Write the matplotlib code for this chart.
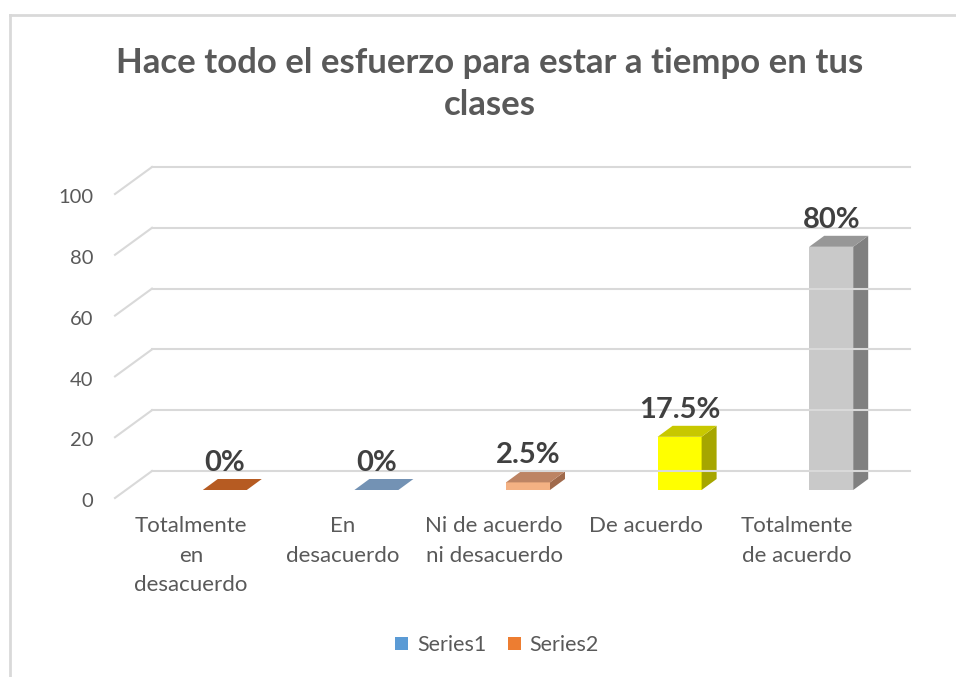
import matplotlib
matplotlib.use('Agg')
import matplotlib.pyplot as plt
from matplotlib.patches import Rectangle, Polygon, Patch
from matplotlib.lines import Line2D

plt.rcParams['font.family'] = ['Lato', 'DejaVu Sans']

categories = ['Totalmente\nen\ndesacuerdo', 'En\ndesacuerdo',
              'Ni de acuerdo\nni desacuerdo', 'De acuerdo',
              'Totalmente\nde acuerdo']
values = [0, 0, 2.5, 17.5, 80]
value_labels = ['0%', '0%', '2.5%', '17.5%', '80%']
yticks = [0, 20, 40, 60, 80, 100]
front_colors = ['#ED7D31', '#5B9BD5', '#F4B183', '#FFFF00', '#C9C9C9']
top_colors = ['#B65B22', '#7392B4', '#BD8464', '#C8C800', '#979797']
side_colors = ['#A04F1C', '#5F7D9E', '#A06A4C', '#A6A600', '#808080']
series = ['Series1', 'Series2']
series_colors = ['#5B9BD5', '#ED7D31']

W, H = 956, 677
fig = plt.figure(figsize=(W / 100, H / 100), dpi=100)
# front plane of the fake 3d box: x 115..873 px, y 498 (0) .. 194 (100) px
ax = fig.add_axes([115 / W, 1 - 498 / H, 758 / W, 304 / H])
ax.set_xlim(-0.5, 4.5)
ax.set_ylim(0, 100)
ax.axis('off')

px_x = 5 / 758      # data units per pixel
px_y = 100 / 304
wall_dx, wall_dy = 37 * px_x, 27 * px_y
grid_c = '#D9D9D9'

for v in yticks:
    ax.add_line(Line2D([-0.5, -0.5 + wall_dx], [v, v + wall_dy], color=grid_c, lw=1.5, clip_on=False))
    ax.add_line(Line2D([-0.5 + wall_dx, 4.5 + wall_dx], [v + wall_dy, v + wall_dy],
                       color=grid_c, lw=1.5, clip_on=False))
    ax.text(-0.5 - 22 * px_x, v - 1.2, str(v), ha='right', va='center',
            fontsize=14.5, color='#595959')

# bars
bw = 44 * px_x
bar_dx, bar_dy = 15 * px_x, 11 * px_y
base = 8 * px_y
for k, v in enumerate(values):
    x0 = k + 34 * px_x - bw / 2
    top = base + v
    if v > 0:
        ax.add_patch(Rectangle((x0, base), bw, v, facecolor=front_colors[k],
                               edgecolor='none', clip_on=False))
        ax.add_patch(Polygon([(x0 + bw, base), (x0 + bw + bar_dx, base + bar_dy),
                              (x0 + bw + bar_dx, top + bar_dy), (x0 + bw, top)],
                             facecolor=side_colors[k], edgecolor='none', clip_on=False))
    ax.add_patch(Polygon([(x0, top), (x0 + bw, top), (x0 + bw + bar_dx, top + bar_dy),
                          (x0 + bar_dx, top + bar_dy)],
                         facecolor=top_colors[k], edgecolor='none', clip_on=False))
    ax.text(x0 + bw / 2, top + bar_dy + 2.6, value_labels[k],
            ha='center', va='baseline', fontsize=21, fontweight='bold',
            color='#404040')

for k, lab in enumerate(categories):
    ax.text(k, -5.8, lab, ha='center', va='top', fontsize=16,
            color='#595959', linespacing=1.62)

fig.text(490 / W, 1 - 84 / H,
         'Hace todo el esfuerzo para estar a tiempo en tus\nclases',
         ha='center', va='center', fontsize=25, fontweight='bold',
         color='#595959', linespacing=1.42)

handles = [Patch(facecolor=c, edgecolor='none') for c in series_colors]
fig.legend(handles, series, loc='center', bbox_to_anchor=(497 / W, 1 - 645 / H),
           ncol=2, frameon=False, fontsize=15.5, handlelength=0.6,
           handleheight=0.6, handletextpad=0.4, columnspacing=1.0,
           labelcolor='#595959')

# chart-area border (top and left edges visible)
fig.add_artist(Line2D([10 / W, 1], [1 - 15 / H, 1 - 15 / H], color=grid_c, lw=2))
fig.add_artist(Line2D([10 / W, 10 / W], [0, 1 - 15 / H], color=grid_c, lw=2))

fig.savefig('out.png', dpi=100)
